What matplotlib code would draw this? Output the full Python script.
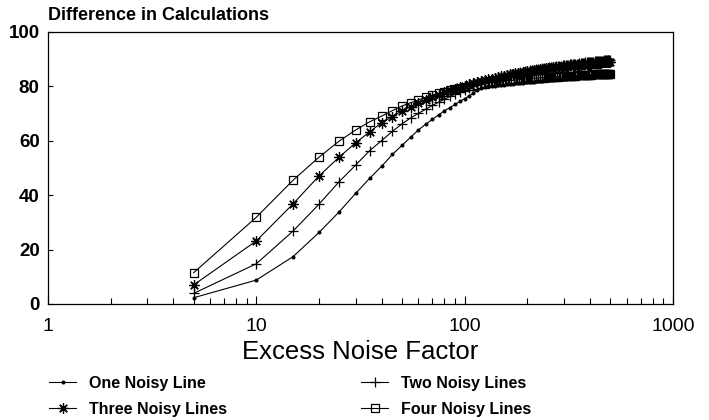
import matplotlib
matplotlib.use("Agg")
import matplotlib.pyplot as plt
from matplotlib.ticker import FixedLocator, LogLocator, NullFormatter

# excess noise factor, 5 to 500 in steps of 5
noise_factor = list(range(5, 505, 5))

one_line = [
    2.3, 8.8, 17.4, 26.3, 33.9, 40.7, 46.2, 50.7, 55.0, 58.3,
    61.3, 64.0, 66.1, 67.9, 69.5, 71.1, 72.2, 73.4, 74.5, 75.5,
    76.5, 77.5, 78.5, 79.3, 79.8, 80.1, 80.2, 80.3, 80.4, 80.5,
    80.6, 80.8, 80.9, 81.0, 81.1, 81.2, 81.3, 81.4, 81.5, 81.6,
    81.7, 81.7, 81.8, 81.9, 82.0, 82.0, 82.1, 82.2, 82.3, 82.3,
    82.4, 82.4, 82.5, 82.6, 82.6, 82.7, 82.7, 82.8, 82.8, 82.9,
    82.9, 83.0, 83.0, 83.1, 83.1, 83.2, 83.2, 83.3, 83.3, 83.3,
    83.4, 83.4, 83.5, 83.5, 83.5, 83.6, 83.6, 83.7, 83.7, 83.7,
    83.8, 83.8, 83.8, 83.9, 83.9, 83.9, 84.0, 84.0, 84.0, 84.1,
    84.1, 84.1, 84.2, 84.2, 84.2, 84.2, 84.3, 84.3, 84.3, 84.4,
]
two_lines = [
    3.9, 14.8, 26.8, 36.7, 45.0, 51.1, 56.4, 60.1, 63.5, 66.2,
    68.4, 70.1, 71.6, 73.0, 74.2, 75.3, 76.3, 77.2, 78.0, 78.8,
    79.4, 80.0, 80.6, 81.2, 81.6, 82.0, 82.4, 82.8, 83.2, 83.6,
    83.8, 84.1, 84.3, 84.6, 84.8, 85.0, 85.2, 85.4, 85.6, 85.8,
    85.9, 86.0, 86.2, 86.3, 86.4, 86.5, 86.6, 86.7, 86.8, 86.9,
    87.0, 87.1, 87.2, 87.3, 87.4, 87.5, 87.6, 87.6, 87.7, 87.8,
    87.9, 87.9, 88.0, 88.1, 88.1, 88.2, 88.2, 88.3, 88.4, 88.4,
    88.5, 88.5, 88.6, 88.6, 88.7, 88.8, 88.8, 88.9, 88.9, 89.0,
    89.0, 89.1, 89.1, 89.2, 89.2, 89.3, 89.3, 89.3, 89.4, 89.4,
    89.5, 89.5, 89.6, 89.6, 89.6, 89.7, 89.7, 89.7, 89.8, 89.8,
]
three_lines = [
    7.0, 23.2, 36.8, 47.1, 54.0, 59.3, 63.3, 66.7, 68.9, 71.0,
    72.6, 74.0, 75.1, 76.1, 77.0, 77.8, 78.5, 79.1, 79.7, 80.2,
    80.7, 81.1, 81.6, 82.0, 82.3, 82.6, 82.9, 83.2, 83.5, 83.8,
    84.0, 84.2, 84.4, 84.6, 84.8, 84.9, 85.1, 85.3, 85.4, 85.6,
    85.7, 85.8, 86.0, 86.1, 86.2, 86.3, 86.4, 86.5, 86.6, 86.7,
    86.8, 86.9, 87.0, 87.0, 87.1, 87.2, 87.3, 87.3, 87.4, 87.4,
    87.5, 87.6, 87.6, 87.7, 87.7, 87.8, 87.8, 87.9, 87.9, 88.0,
    88.0, 88.0, 88.1, 88.1, 88.2, 88.2, 88.3, 88.3, 88.4, 88.4,
    88.4, 88.5, 88.5, 88.5, 88.6, 88.6, 88.6, 88.7, 88.7, 88.7,
    88.8, 88.8, 88.8, 88.9, 88.9, 88.9, 88.9, 89.0, 89.0, 89.0,
]
four_lines = [
    11.5, 31.9, 45.5, 54.0, 59.9, 64.0, 67.0, 69.1, 71.1, 72.8,
    74.0, 75.0, 76.0, 76.8, 77.5, 78.0, 78.5, 79.0, 79.4, 79.8,
    80.1, 80.3, 80.6, 80.8, 81.0, 81.2, 81.3, 81.5, 81.7, 81.8,
    81.9, 82.0, 82.1, 82.2, 82.3, 82.4, 82.5, 82.6, 82.7, 82.8,
    82.9, 82.9, 83.0, 83.0, 83.1, 83.1, 83.2, 83.2, 83.3, 83.3,
    83.4, 83.4, 83.5, 83.5, 83.6, 83.6, 83.7, 83.7, 83.8, 83.8,
    83.8, 83.9, 83.9, 83.9, 84.0, 84.0, 84.0, 84.0, 84.1, 84.1,
    84.1, 84.1, 84.2, 84.2, 84.2, 84.2, 84.3, 84.3, 84.3, 84.3,
    84.3, 84.4, 84.4, 84.4, 84.4, 84.4, 84.4, 84.5, 84.5, 84.5,
    84.5, 84.5, 84.5, 84.6, 84.6, 84.6, 84.6, 84.6, 84.6, 84.6,
]

labels = ['One Noisy Line', 'Two Noisy Lines', 'Three Noisy Lines', 'Four Noisy Lines']
x_ticks = [1, 10, 100, 1000]
y_ticks = [0, 20, 40, 60, 80, 100]

plt.rcParams['font.family'] = ['Liberation Sans', 'DejaVu Sans']

fig = plt.figure(figsize=(7.09, 4.20), dpi=100)
ax = fig.add_axes([48 / 709, 1 - 304 / 420, 625 / 709, 272 / 420])

style = dict(color='black', linewidth=0.8, markeredgewidth=0.9)
l1, = ax.plot(noise_factor, one_line, marker='o', markersize=2, label=labels[0], **style)
l2, = ax.plot(noise_factor, two_lines, marker='+', markersize=7.5, label=labels[1], **style)
l3, = ax.plot(noise_factor, three_lines, marker=(8, 2, 0), markersize=7.5, label=labels[2], **style)
l4, = ax.plot(noise_factor, four_lines, marker='s', markersize=5.8, markerfacecolor='none',
              label=labels[3], **style)

ax.set_xscale('log')
ax.set_xlim(1, 1000)
ax.set_ylim(0, 100)
ax.xaxis.set_major_locator(FixedLocator(x_ticks))
ax.set_xticklabels([str(t) for t in x_ticks], fontsize=14)
ax.xaxis.set_minor_locator(LogLocator(base=10, subs=range(2, 10)))
ax.xaxis.set_minor_formatter(NullFormatter())
ax.set_yticks(y_ticks)
ax.set_yticklabels([str(t) for t in y_ticks], fontsize=13.5, fontweight='bold')

ax.tick_params(axis='x', which='major', direction='in', length=5.5, width=0.8, pad=10)
ax.tick_params(axis='x', which='minor', direction='in', length=4.5, width=0.8)
ax.tick_params(axis='y', which='major', direction='in', length=3.5, width=0.8, pad=6)
for sp in ax.spines.values():
    sp.set_linewidth(0.9)

ax.set_xlabel('Excess Noise Factor', fontsize=18.5, labelpad=4)
fig.text(48 / 709, 1 - 16 / 420, 'Difference in Calculations', fontsize=13, fontweight='bold',
         ha='left', va='center')

fig.legend(handles=[l1, l3, l2, l4], ncol=2, loc='upper left',
           bbox_to_anchor=(49 / 709, 1 - 376 / 420), frameon=False,
           prop={'size': 11.5, 'weight': 'bold'}, borderpad=0, borderaxespad=0,
           handlelength=1.7, handletextpad=0.8, columnspacing=8.4, labelspacing=0.66,
           numpoints=1)

fig.savefig('out.png', dpi=100)
